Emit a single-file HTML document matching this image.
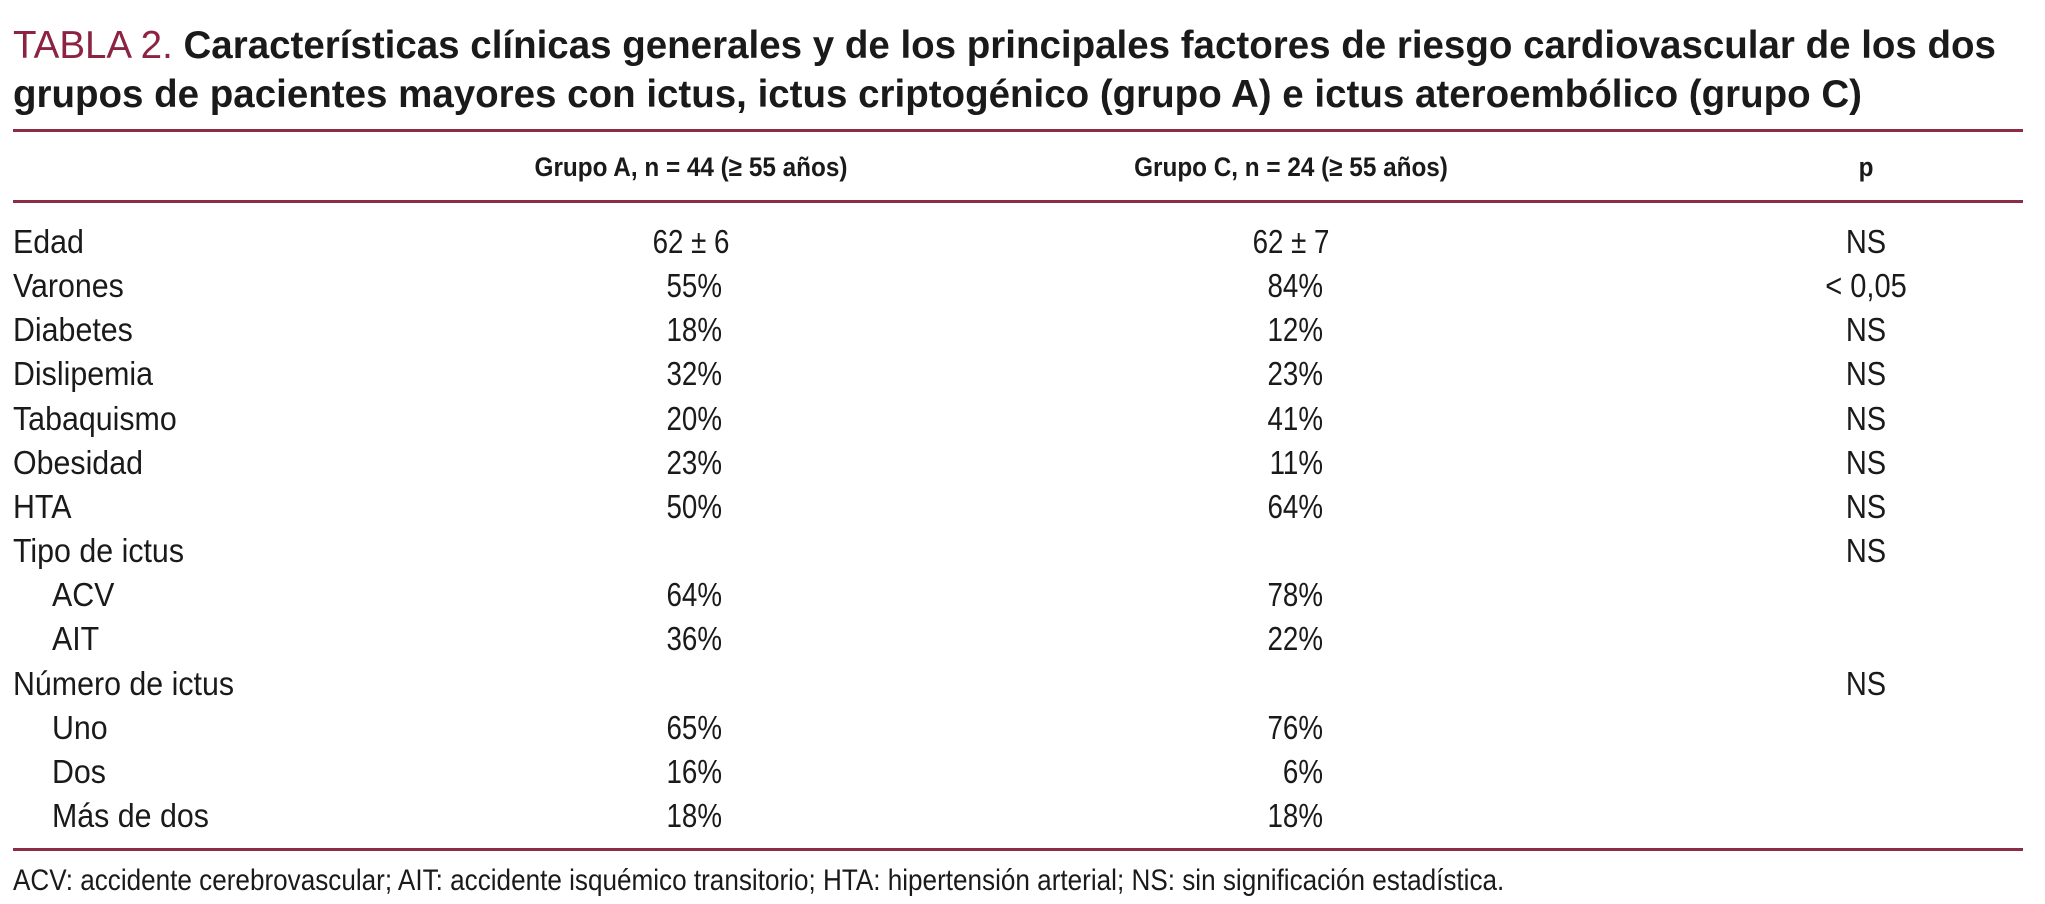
<!DOCTYPE html>
<html><head><meta charset="utf-8">
<style>
html,body{margin:0;padding:0;background:#fff;}
#page{position:relative;width:2045px;height:904px;overflow:hidden;background:#fff;}
.t{position:absolute;white-space:nowrap;line-height:1;}
.title{font-family:"Liberation Sans",sans-serif;font-weight:bold;font-size:38.5px;color:#1a1a1a;left:13px;}
.title .lab{font-weight:normal;color:#8c2342;}
.rule{position:absolute;left:13px;width:2010px;height:3px;background:#8a2d45;}
.hdr{font-family:"Liberation Sans",sans-serif;font-weight:bold;font-size:27px;color:#1a1a1a;transform:translateX(-50%) scaleX(0.9);transform-origin:center;}
.cell{font-family:"Liberation Sans",sans-serif;font-size:33px;color:#1a1a1a;}
.lbl{transform:scaleX(0.92);transform-origin:left;}
.valr{transform:translateX(-100%) scaleX(0.84);transform-origin:right;}
.valc{transform:translateX(-50%) scaleX(0.84);transform-origin:center;}
.valp{transform:translateX(-50%) scaleX(0.88);transform-origin:center;}
.foot{font-family:"Liberation Sans",sans-serif;font-size:30px;color:#1a1a1a;left:13px;top:866px;transform:scaleX(0.87);transform-origin:left;}
</style></head>
<body>
<div id="page">
<div class="t title" style="top:27px"><span class="lab">TABLA 2.</span> Características clínicas generales y de los principales factores de riesgo cardiovascular de los dos</div>
<div class="t title" style="top:76px">grupos de pacientes mayores con ictus, ictus criptogénico (grupo A) e ictus ateroembólico (grupo C)</div>
<div class="rule" style="top:129px"></div>
<div class="t hdr" style="left:691px;top:154px">Grupo A, n = 44 (≥ 55 años)</div>
<div class="t hdr" style="left:1291px;top:154px">Grupo C, n = 24 (≥ 55 años)</div>
<div class="t hdr" style="left:1866px;top:154px">p</div>
<div class="rule" style="top:200px"></div>
<div id="rows"></div>
<div class="rule" style="top:848px"></div>
<div class="t foot">ACV: accidente cerebrovascular; AIT: accidente isquémico transitorio; HTA: hipertensión arterial; NS: sin significación estadística.</div>
</div>
<script>
const rowLabels = ["Edad","Varones","Diabetes","Dislipemia","Tabaquismo","Obesidad","HTA","Tipo de ictus","ACV","AIT","Número de ictus","Uno","Dos","Más de dos"];
const indented = [0,0,0,0,0,0,0,0,1,1,0,1,1,1];
const grupoA = ["62 ± 6","55%","18%","32%","20%","23%","50%","","64%","36%","","65%","16%","18%"];
const grupoC = ["62 ± 7","84%","12%","23%","41%","11%","64%","","78%","22%","","76%","6%","18%"];
const pVals = ["NS","< 0,05","NS","NS","NS","NS","NS","NS","","","NS","","",""];

const body = document.getElementById('rows');
const rowTop = 225, rowStep = 44.15;
function rowY(i){ return rowTop + i*rowStep; }
function addVal(txt, centerX, rightX, y, name){
  const d = document.createElement('div');
  const centered = txt.indexOf('±') >= 0;
  d.className = 't cell ' + (centered ? 'valc' : 'valr');
  d.style.left = (centered ? centerX : rightX) + 'px';
  d.style.top = y + 'px';
  d.textContent = txt;
  
  
  body.appendChild(d);
}
rowLabels.forEach(function(lab,i){
  const y = rowY(i);
  const l = document.createElement('div');
  l.className = 't cell lbl';
  l.style.left = (indented[i] ? 52 : 13) + 'px';
  l.style.top = y + 'px';
  l.textContent = lab;
  
  
  body.appendChild(l);
  if (grupoA[i]) addVal(grupoA[i], 691, 722, y, 'grupo-a-value');
  if (grupoC[i]) addVal(grupoC[i], 1291, 1323, y, 'grupo-c-value');
  if (pVals[i]) {
    const p = document.createElement('div');
    p.className = 't cell valp';
    p.style.left = '1866px';
    p.style.top = y + 'px';
    p.textContent = pVals[i];
    
    
    body.appendChild(p);
  }
});
</script>
</body></html>
